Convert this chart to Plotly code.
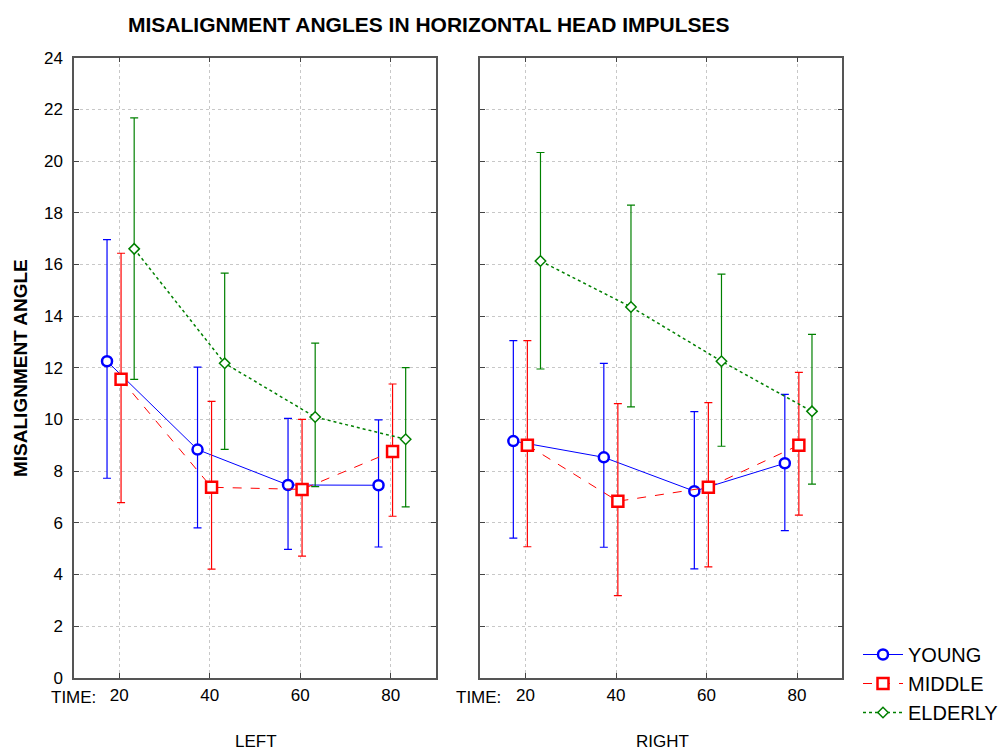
import plotly.graph_objects as go

# ---- data ----
times = [20, 40, 60, 80]
groups = ["YOUNG", "MIDDLE", "ELDERLY"]
offsets = [-2.7, 0.4, 3.3]

left_young = [12.25, 8.83, 7.46, 7.45]
left_young_hi = [16.96, 12.02, 10.04, 9.98]
left_young_lo = [7.72, 5.80, 4.97, 5.06]
left_middle = [11.55, 7.37, 7.29, 8.76]
left_middle_hi = [16.43, 10.70, 10.00, 11.37]
left_middle_lo = [6.78, 4.20, 4.71, 6.25]
left_elderly = [16.60, 12.17, 10.09, 9.23]
left_elderly_hi = [21.67, 15.66, 12.95, 12.00]
left_elderly_lo = [11.55, 8.84, 7.40, 6.61]

right_young = [9.16, 8.53, 7.22, 8.30]
right_young_hi = [13.05, 12.17, 10.30, 10.97]
right_young_lo = [5.40, 5.05, 4.21, 5.69]
right_middle = [9.00, 6.83, 7.37, 9.00]
right_middle_hi = [13.05, 10.61, 10.65, 11.82]
right_middle_lo = [5.07, 3.18, 4.29, 6.29]
right_elderly = [16.13, 14.35, 12.25, 10.31]
right_elderly_hi = [20.33, 18.29, 15.62, 13.29]
right_elderly_lo = [11.95, 10.48, 8.96, 7.49]

y_ticks = list(range(0, 25, 2))

colors = ["#0000ff", "#ff0000", "#008000"]
dashes = ["solid", "dash", "dot"]
symbols = ["circle", "square", "diamond"]
msizes = [10, 11, 8]
mwidths = [2.5, 2.5, 1.5]
lwidths = [1, 1, 1.5]

panels = [
    ("x", "y", [left_young, left_middle, left_elderly],
     [left_young_hi, left_middle_hi, left_elderly_hi],
     [left_young_lo, left_middle_lo, left_elderly_lo]),
    ("x2", "y2", [right_young, right_middle, right_elderly],
     [right_young_hi, right_middle_hi, right_elderly_hi],
     [right_young_lo, right_middle_lo, right_elderly_lo]),
]

fig = go.Figure()
for pi, (xa, ya, means, his, los) in enumerate(panels):
    for gi, g in enumerate(groups):
        m = means[gi]
        up = [h - v for h, v in zip(his[gi], m)]
        dn = [v - l for v, l in zip(m, los[gi])]
        fig.add_trace(go.Scatter(
            x=[t + offsets[gi] for t in times], y=m,
            xaxis=xa, yaxis=ya, name=g, showlegend=(pi == 0),
            mode="lines+markers",
            line=dict(color=colors[gi], width=lwidths[gi], dash=dashes[gi]),
            marker=dict(symbol=symbols[gi], size=msizes[gi], color="white",
                        line=dict(color=colors[gi], width=mwidths[gi])),
            error_y=dict(type="data", array=up, arrayminus=dn, symmetric=False,
                         color=colors[gi], thickness=1.2, width=4),
        ))

font = "Liberation Sans, Arial, sans-serif"
axis_common = dict(showline=True, mirror="ticks", linecolor="#555", linewidth=1.5,
                   ticks="inside", ticklen=5, tickcolor="#444", tickwidth=1.2,
                   showgrid=True, gridcolor="#c8c8c8", griddash="dot", gridwidth=1,
                   zeroline=False, automargin=False,
                   tickfont=dict(family=font, size=17, color="black"))

fig.update_layout(
    width=1001, height=751, margin=dict(l=0, r=0, t=0, b=0, autoexpand=False),
    plot_bgcolor="white", paper_bgcolor="white",
    font=dict(family=font, color="black"),
    xaxis=dict(domain=[74/1001, 436/1001], range=[10, 90], tickvals=times,
               ticklabelstandoff=1, **axis_common),
    xaxis2=dict(domain=[480.3/1001, 842.3/1001], range=[10, 90], tickvals=times,
                ticklabelstandoff=1, **axis_common),
    yaxis=dict(domain=[1-677.7/751, 1-57.7/751], range=[0, 24], tickvals=y_ticks,
               anchor="x", ticklabelstandoff=6, **axis_common),
    yaxis2=dict(domain=[1-677.7/751, 1-57.7/751], range=[0, 24], tickvals=y_ticks,
                anchor="x2", showticklabels=False, **axis_common),
    legend=dict(x=858/1001, y=1-635/751, xanchor="left", yanchor="top",
                font=dict(family=font, size=20, color="black"), itemwidth=40,
                bgcolor="rgba(0,0,0,0)", tracegroupgap=0),
    showlegend=True,
)

annots = [
    dict(text="<b>MISALIGNMENT ANGLES IN HORIZONTAL HEAD IMPULSES</b>", x=429/1001, y=1-25/751,
         font=dict(size=21)),
    dict(text="<b>MISALIGNMENT ANGLE</b>", x=20/1001, y=1-368/751, textangle=-90,
         font=dict(size=19)),
    dict(text="TIME:", x=98/1001, y=1-697/751, xanchor="right", font=dict(size=17)),
    dict(text="TIME:", x=503/1001, y=1-697/751, xanchor="right", font=dict(size=17)),
    dict(text="LEFT", x=256/1001, y=1-741/751, font=dict(size=17)),
    dict(text="RIGHT", x=662/1001, y=1-741/751, font=dict(size=17)),
]
for a in annots:
    a.setdefault("xanchor", "center")
    fig.add_annotation(xref="paper", yref="paper", showarrow=False, yanchor="middle",
                       **{k: v for k, v in a.items()})

fig.write_html("out.html")
